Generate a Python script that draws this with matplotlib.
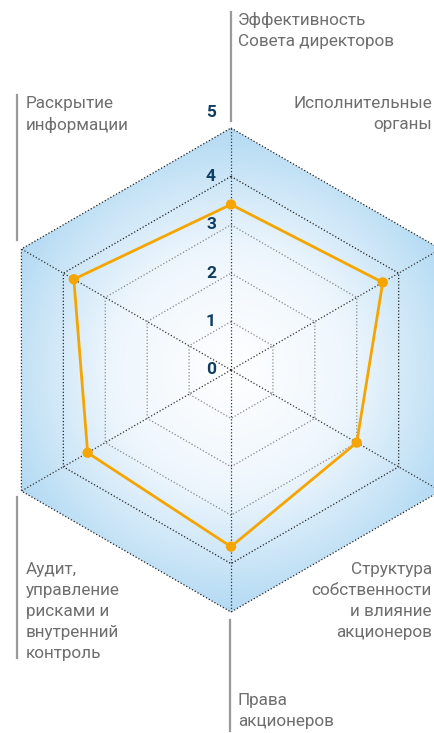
import numpy as np
import matplotlib.pyplot as plt
from matplotlib.colors import LinearSegmentedColormap
from matplotlib.patches import Polygon

# оценки по направлениям (по часовой стрелке от верхней оси)
categories = [
    "Эффективность\nСовета директоров",
    "Исполнительные\nорганы",
    "Структура\nсобственности\nи влияние\nакционеров",
    "Права\nакционеров",
    "Аудит,\nуправление\nрисками и\nвнутренний\nконтроль",
    "Раскрытие\nинформации",
]
scores = [3.42, 3.62, 3.0, 3.65, 3.42, 3.75]
levels = [0, 1, 2, 3, 4, 5]

plt.rcParams['font.family'] = ['Roboto', 'DejaVu Sans']

W, H = 434, 733
px = 48.4                      # пикселей на единицу шкалы
cx, cy = 231, 370              # центр в пикселях

fig = plt.figure(figsize=(W / 100, H / 100), dpi=100)
ax = fig.add_axes([0, 0, 1, 1])
ax.set_xlim(-cx / px, (W - cx) / px)
ax.set_ylim(-(H - cy) / px, cy / px)
ax.set_aspect('equal')
ax.axis('off')

n = len(categories)
ang = np.arange(n) * 2 * np.pi / n
ux, uy = np.sin(ang), np.cos(ang)


def hexagon(r):
    return np.column_stack([r * ux, r * uy])


# фон с радиальным градиентом
cmap = LinearSegmentedColormap.from_list('bg', ['#ffffff', '#eef6fd', '#b3daf3'])
gx = np.linspace(-5, 5, 400)
gX, gY = np.meshgrid(gx, gx)
dist = np.sqrt(gX ** 2 + gY ** 2) / 5
img = ax.imshow(dist, extent=[-5, 5, -5, 5], origin='lower', cmap=cmap,
                vmin=0, vmax=1, zorder=1, interpolation='bilinear')
clip = Polygon(hexagon(5), closed=True, transform=ax.transData)
img.set_clip_path(clip)

# сетка
for lv in levels[1:]:
    pts = hexagon(lv)
    pts = np.vstack([pts, pts[:1]])
    col = '#222222' if lv >= 4 else '#8a8a8a'
    ax.plot(pts[:, 0], pts[:, 1], color=col, lw=0.9, ls=(0, (1, 1.6)), zorder=2)
for i in range(n):
    ax.plot([0, 5 * ux[i]], [0, 5 * uy[i]], color='#333333', lw=0.9,
            ls=(0, (1, 1.6)), zorder=2)

# подписи шкалы
for lv in levels:
    yy = lv if lv < 5 else 5.31
    ax.text(-20 / px, yy, str(lv), ha='center', va='center', fontsize=12.5,
            fontweight='bold', color='#0f3d63', family='Roboto',
            zorder=5)

# данные
sx = np.array(scores) * ux
sy = np.array(scores) * uy
ax.plot(np.append(sx, sx[0]), np.append(sy, sy[0]), color='#f5a500', lw=2,
        zorder=3)
ax.scatter(sx, sy, s=55, color='#f5a500', zorder=4, edgecolors='none')


def P(x, y):
    return (x - cx) / px, (cy - y) / px


# выноски с подписями
lines = [
    ((231, 12), (231, 121)),
    ((17, 95), (17, 240)),
    ((17, 497), (17, 658)),
    ((230, 620), (230, 731)),
]
for a, b in lines:
    (x0, y0), (x1, y1) = P(*a), P(*b)
    ax.plot([x0, x1], [y0, y1], color='#9a9a9a', lw=1.6, zorder=2)

label_pos = [
    ((238, 12), 'left'),
    ((432, 96), 'right'),
    ((432, 562), 'right'),
    ((238, 693), 'left'),
    ((26, 562), 'left'),
    ((26, 96), 'left'),
]
for text, (xy, ha) in zip(categories, label_pos):
    x, y = P(*xy)
    ax.text(x, y, text, ha=ha, va='top', fontsize=12.3, color='#6e6e6e',
            linespacing=1.5, multialignment=ha, zorder=5)

fig.savefig('out.png', dpi=100)
